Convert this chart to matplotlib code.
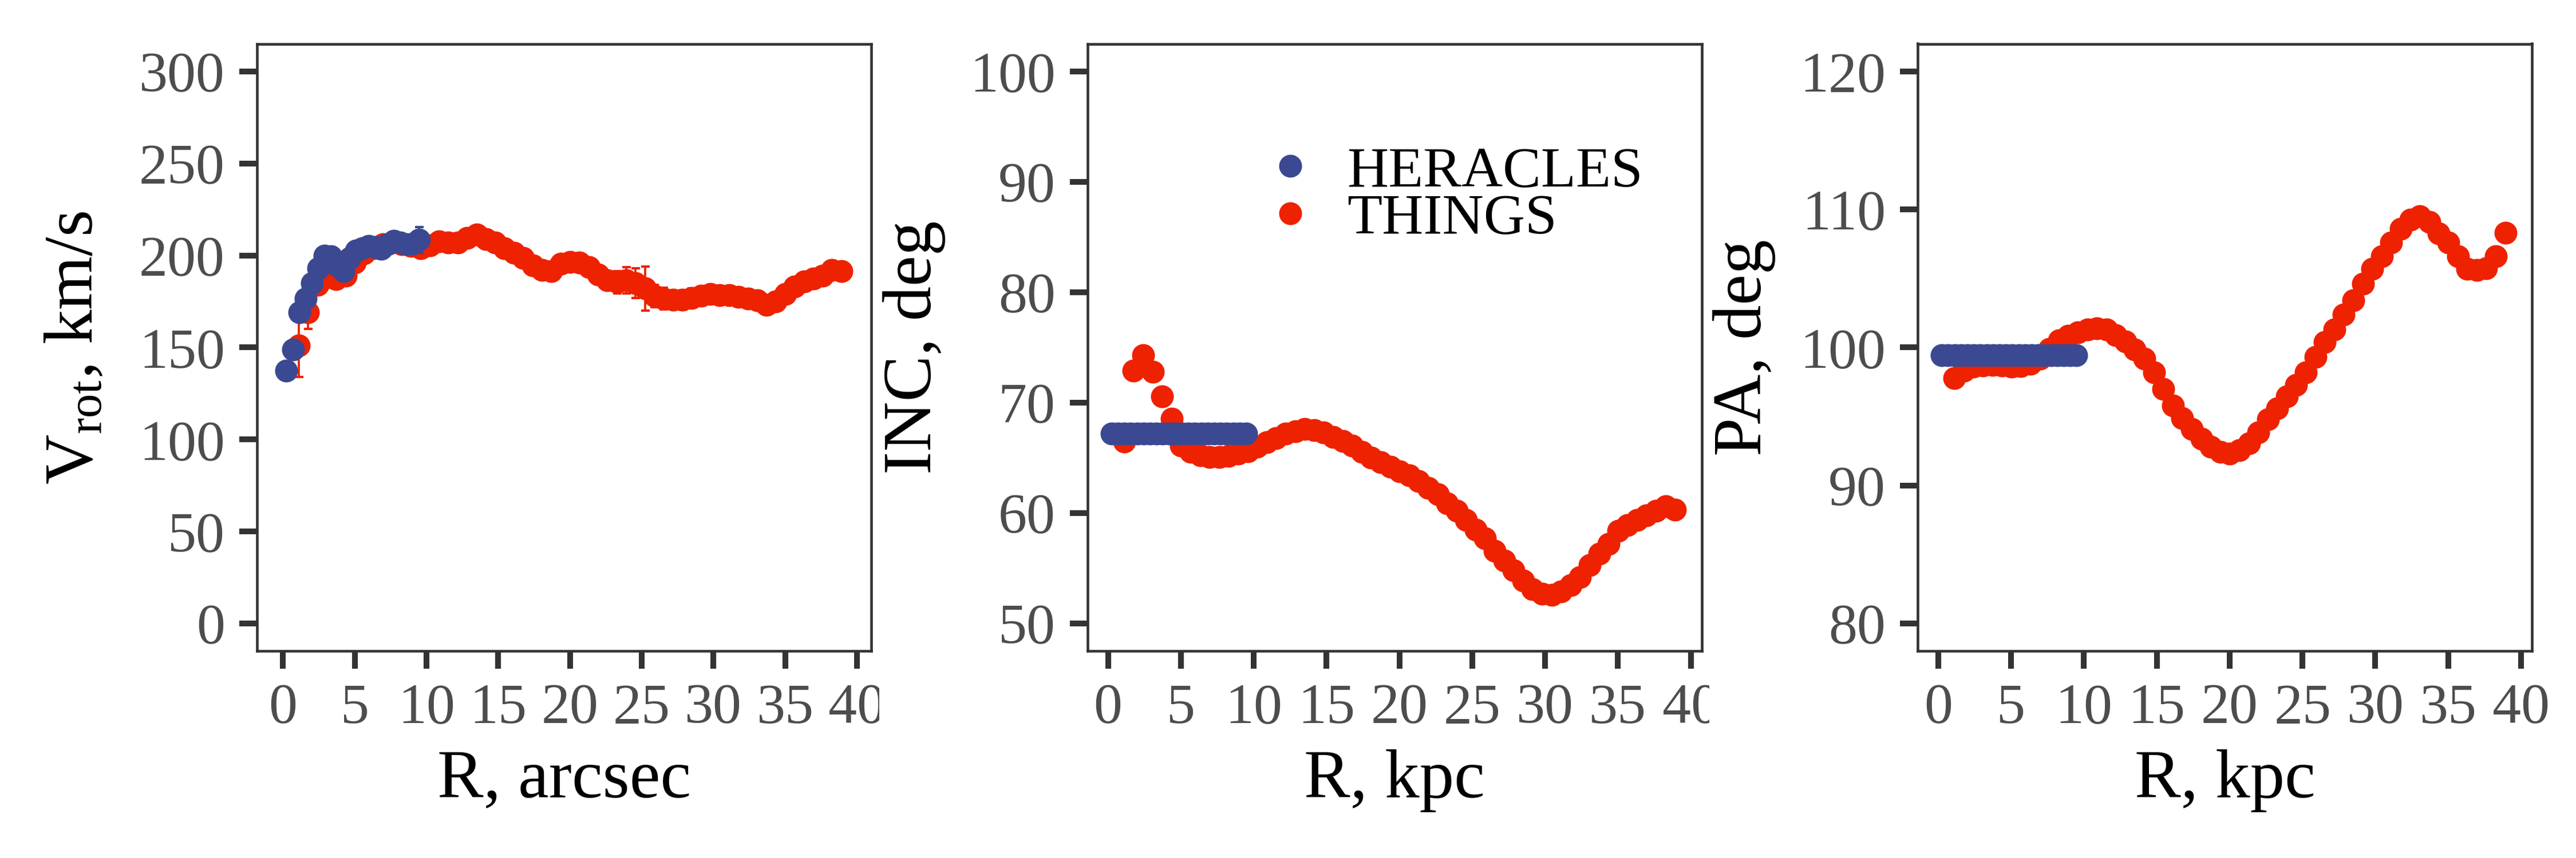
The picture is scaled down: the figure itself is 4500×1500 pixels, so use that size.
import matplotlib
matplotlib.use('Agg')
import matplotlib.pyplot as plt
from matplotlib.lines import Line2D
from matplotlib.transforms import Bbox, TransformedBbox

plt.rcParams['font.family'] = ['Liberation Serif', 'DejaVu Serif']
plt.rcParams['mathtext.fontset'] = 'custom'
plt.rcParams['mathtext.rm'] = 'Liberation Serif'
plt.rcParams['mathtext.it'] = 'Liberation Serif:italic'

# THINGS (red) profiles
r_things = [1.11, 1.76, 2.41, 3.07, 3.72, 4.37, 5.02, 5.67, 6.33, 6.98,
            7.63, 8.28, 8.93, 9.59, 10.24, 10.89, 11.54, 12.19, 12.85, 13.50,
            14.15, 14.80, 15.45, 16.11, 16.76, 17.41, 18.06, 18.71, 19.37, 20.02,
            20.67, 21.32, 21.97, 22.63, 23.28, 23.93, 24.58, 25.23, 25.89, 26.54,
            27.19, 27.84, 28.49, 29.15, 29.80, 30.45, 31.10, 31.75, 32.41, 33.06,
            33.71, 34.36, 35.01, 35.67, 36.32, 36.97, 37.62, 38.27, 38.93]
vrot_things = [151, 169, 184, 188, 187, 189, 196, 201, 204, 206,
               207, 206, 205, 204, 205.5, 207.5, 207, 207, 209.5, 211.5,
               209, 207, 204, 201.5, 198.5, 194.5, 192, 191.5, 195.5, 196.5,
               196, 193.5, 189.5, 186.5, 185.5, 186.5, 185, 182, 178, 176.5,
               176, 176, 177, 178, 179, 178.5, 178.5, 177.5, 176.5, 175.5,
               173, 175, 179, 183, 186, 187.5, 189, 192, 191.5]
vrot_things_err = [17, 9, 5, 4, 5, 4, 3, 3, 3, 3,
                   3, 3, 3, 3, 3, 3, 3, 3, 3, 3,
                   3, 3, 3, 3, 3, 3, 3, 3, 3, 4,
                   4, 4, 4, 5, 6, 7, 8, 12, 6, 6,
                   5, 5, 5, 5, 5, 5, 5, 5, 5, 5,
                   4, 4, 4, 4, 4, 4, 4, 5, 5]
inc_things = [66.5, 72.9, 74.3, 72.8, 70.55, 68.55, 66.1, 65.55, 65.25, 65.1,
              65.1, 65.2, 65.4, 65.6, 66.0, 66.4, 66.8, 67.2, 67.4, 67.6,
              67.5, 67.3, 66.9, 66.55, 66.1, 65.55, 65.0, 64.6, 64.2, 63.8,
              63.4, 62.9, 62.3, 61.7, 60.9, 60.2, 59.4, 58.5, 57.7, 56.6,
              55.7, 54.8, 53.9, 53.1, 52.7, 52.6, 52.9, 53.5, 54.2, 55.3,
              56.3, 57.2, 58.4, 58.9, 59.4, 59.8, 60.2, 60.6, 60.3]
pa_things = [97.8, 98.3, 98.6, 98.7, 98.75, 98.7, 98.6, 98.65, 98.8, 99.2,
             99.9, 100.5, 100.85, 101.1, 101.3, 101.4, 101.3, 100.9, 100.45, 99.85,
             99.2, 98.2, 97.0, 95.8, 94.9, 94.1, 93.4, 92.8, 92.45, 92.3,
             92.55, 93.05, 93.85, 94.8, 95.6, 96.45, 97.3, 98.2, 99.3, 100.4,
             101.3, 102.4, 103.4, 104.6, 105.7, 106.6, 107.6, 108.6, 109.25, 109.5,
             109.1, 108.25, 107.6, 106.6, 105.7, 105.6, 105.75, 106.6, 108.3]

# HERACLES (blue) profiles
r_heracles = [0.25, 0.69, 1.13, 1.57, 2.01, 2.45, 2.89, 3.33, 3.77, 4.21, 4.65,
              5.09, 5.53, 5.97, 6.41, 6.85, 7.29, 7.73, 8.17, 8.61, 9.05, 9.49]
vrot_heracles = [137.5, 149, 169, 176.5, 185, 193, 200, 199.5, 194.5, 191.5, 198.5,
                 202.5, 204, 205, 204.5, 203.5, 206, 208, 207, 206, 206.5, 208.5]
vrot_heracles_err = [3, 3, 3, 3, 3, 3, 3, 3, 3, 3, 3,
                     3, 3, 3, 3, 3, 3, 3, 3, 3, 3, 7]
inc_heracles = [67.2] * len(r_heracles)
pa_heracles = [99.45] * len(r_heracles)

col_her = '#3B4992'
col_thi = '#EE2200'
ms = 9.6

fig = plt.figure(figsize=(15, 5), dpi=300)
lefts = [0.0998, 0.4222, 0.7445]
axs = [fig.add_axes([l, 0.2411, 0.2384, 0.7079]) for l in lefts]

# panel 1: rotation curve with error bars
ax = axs[0]
ax.errorbar(r_things, vrot_things, yerr=vrot_things_err, fmt='none', ecolor=col_thi,
            elinewidth=0.9, capsize=1.8, capthick=1.0, zorder=2)
ax.plot(r_things, vrot_things, 'o', color=col_thi, ms=ms, mew=0, zorder=3)
ax.errorbar(r_heracles, vrot_heracles, yerr=vrot_heracles_err, fmt='none', ecolor=col_her,
            elinewidth=0.9, capsize=1.8, capthick=1.0, zorder=4)
ax.plot(r_heracles, vrot_heracles, 'o', color=col_her, ms=ms, mew=0, zorder=5)
ax.set_ylim(-15, 315)
ax.set_yticks(range(0, 301, 50))
ax.set_xlim(-1.8, 41.0)
ax.set_xlabel('R, arcsec', fontsize=29, labelpad=6)
ax.set_ylabel(r'V$_{\mathrm{rot}}$, km/s', fontsize=29, labelpad=13.5)

# panel 2: inclination
ax = axs[1]
ax.plot(r_things, inc_things, 'o', color=col_thi, ms=ms, mew=0, zorder=3)
ax.plot(r_heracles, inc_heracles, 'o', color=col_her, ms=ms, mew=0, zorder=5)
ax.set_ylim(47.5, 102.5)
ax.set_yticks(range(50, 101, 10))
ax.set_xlim(-1.4, 40.75)
ax.set_xlabel('R, kpc', fontsize=29, labelpad=6)
ax.set_ylabel('INC, deg', fontsize=29, labelpad=10)

handles = [Line2D([], [], ls='none', marker='o', ms=ms, mew=0, color=col_her, label='HERACLES'),
           Line2D([], [], ls='none', marker='o', ms=ms, mew=0, color=col_thi, label='THINGS')]
ax.legend(handles=handles, loc='upper left', bbox_to_anchor=(0.283, 0.832), frameon=False,
          fontsize=24, handlelength=1.0, handletextpad=0.5, labelspacing=-0.08,
          borderpad=0, borderaxespad=0)

# panel 3: position angle
ax = axs[2]
ax.plot(r_things, pa_things, 'o', color=col_thi, ms=ms, mew=0, zorder=3)
ax.plot(r_heracles, pa_heracles, 'o', color=col_her, ms=ms, mew=0, zorder=5)
ax.set_ylim(78, 122)
ax.set_yticks(range(80, 121, 10))
ax.set_xlim(-1.4, 40.75)
ax.set_xlabel('R, kpc', fontsize=29, labelpad=6)
ax.set_ylabel('PA, deg', fontsize=29, labelpad=10)

for ax in axs:
    for s in ax.spines.values():
        s.set_linewidth(1.1)
        s.set_color('#333333')
    ax.set_xticks(range(0, 41, 5))
    ax.tick_params(direction='out', length=7.5, width=2.4, color='#333333',
                   labelcolor='#4D4D4D', labelsize=24, pad=6)

# the right-most tick label is cut at the panel edge in the first two panels
for ax, xclip in [(axs[0], 0.3413), (axs[1], 0.6636)]:
    clip = TransformedBbox(Bbox([[0, 0], [xclip, 1]]), fig.transFigure)
    for lab in ax.get_xticklabels():
        lab.set_clip_box(clip)
        lab.set_clip_on(True)

fig.savefig('out.png', dpi=300)
